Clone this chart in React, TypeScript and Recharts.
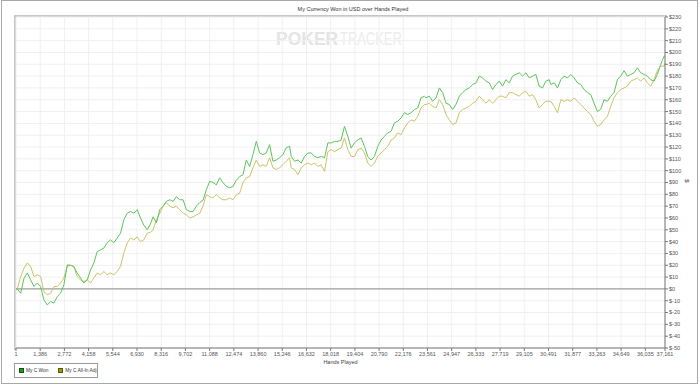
import React from 'react';
import { LineChart, Line, XAxis, YAxis, CartesianGrid, ReferenceLine } from 'recharts';

// hands played (x)
const hands = [
  1,
  77, 268, 458, 649, 839, 1030, 1220, 1411, 1601, 1792, 1983, 2173, 2364, 2554, 2745, 2935, 3126, 3316, 3507, 3698,
  3888, 4079, 4269, 4460, 4650, 4841, 5031, 5222, 5413, 5603, 5794, 5984, 6175, 6365, 6556, 6746, 6937, 7128, 7318, 7509, 7700,
  7852, 8043, 8233, 8424, 8614, 8805, 8995, 9186, 9377, 9567, 9758, 9948, 10139, 10329, 10520, 10710, 10901, 11092, 11282, 11473,
  11663, 11854, 12044, 12235, 12425, 12616, 12807, 12997, 13188, 13378, 13569, 13759, 13950, 14140, 14331, 14521, 14712, 14903, 15093, 15284,
  15474, 15665,
  15761, 15951, 16142, 16332, 16523, 16713, 16904, 17094, 17285, 17476, 17666, 17857, 18047, 18238, 18428, 18619, 18810, 19000, 19191, 19381,
  19572, 19762, 19953, 20143, 20334, 20525, 20715, 20906, 21096, 21287, 21477, 21668, 21858, 22049, 22240, 22430, 22621, 22811, 23002, 23192,
  23383,
  23478, 23669, 23859, 24050, 24240, 24431, 24622, 24812, 25003, 25193, 25384, 25574, 25765, 25955, 26146, 26337, 26527, 26718, 26908, 27099,
  27289, 27480, 27671, 27861, 28052, 28242, 28433, 28623, 28814, 29004, 29195, 29386, 29576, 29767, 29957, 30148, 30338, 30529,
  30625, 30815, 31006, 31196, 31387, 31577, 31768, 31958, 32149, 32340, 32530, 32721, 32911, 33102, 33292, 33483, 33673, 33864, 34055, 34245,
  34436, 34626, 34817, 35007, 35198, 35388, 35579, 35770, 35960, 36151, 36341, 36532, 36722, 36913, 37103,
  37161,
];

// My C Won ($)
const cWon = [
  0,
  0, -3.7, 9, 13.5, 7.6, 2, 5, 2, -9.3, -13.6, -10.7, -12, -6.5, -3.7, 3.4, 20.3, 20, 18.9, 13.3, 9.3,
  5, 7.6, 16, 22, 31.6, 33, 34.5, 39, 41.5, 39, 43, 47, 58.5, 64, 65.5, 64, 67, 60, 54, 50, 55,
  61, 56, 67, 70, 74, 75.4, 74, 78, 75.4, 75.4, 67, 65.5, 65.5, 70, 73, 75, 84, 91, 90, 88,
  94, 90, 86.7, 85.6, 86.7, 92, 95, 96.6, 109, 103.6, 113.6, 124.8, 115, 113.6, 115, 122, 108, 109, 111, 113.6,
  119.5, 120.6,
  112, 108, 109, 106.5, 112, 115, 115, 112, 111, 112, 111, 123.5, 123.5, 124.8, 124.8, 126, 137.5, 129, 119, 123.5,
  126, 127.7, 120.6, 112, 109, 112, 120.6, 126, 129, 132, 133.3, 140.4, 141.8, 144.6, 149, 147.5, 149, 151.7, 153, 161.6,
  163,
  161.6, 163, 158.7, 161.6, 170, 166, 157, 156, 151.7, 156, 163, 166, 168.6, 170, 172.9, 174.3, 180, 178.5, 175.7, 174.3,
  168.6, 172.9, 175.7, 171.5, 177, 174.3, 180, 181.4, 182.8, 180, 182.8, 178.5, 180, 181.4, 171.5, 170, 175.7, 177,
  172.9, 174.3, 170, 177, 180, 178.5, 181.4, 178.5, 174.3, 172.9, 168.6, 166, 164.4, 157, 150, 152, 160, 158.7, 163, 166,
  177, 180, 184.6, 180, 181.4, 182.8, 187, 182.8, 181.4, 180, 177, 175.7, 181.4, 189.8, 196.8,
  197,
];

// My C All-In Adj ($)
const cAllInAdj = [
  0,
  0, 10.4, 17.5, 22, 19, 10.4, 11.9, 10.4, -2.3, -5, -3.7, 2, 2, 5, 9.3, 19, 20, 19, 10.4, 7.6,
  6.2, 7.6, 5, 9.3, 13.5, 12, 14.7, 12, 13.5, 12, 14.7, 19, 30.5, 39, 43, 41.5, 44, 40, 41.5, 47, 48,
  50, 58.5, 64, 70, 73, 70, 68.6, 70, 67, 64, 62.7, 60, 61, 62.7, 64, 70, 79.7, 78, 77, 79.7,
  77, 75.4, 75.4, 77, 75.4, 79.7, 81, 90, 94, 95, 102.5, 109, 103.6, 105, 103.6, 111, 102.5, 101, 102.5, 105,
  108, 111,
  102.3, 101, 96.6, 102.3, 105, 106.5, 105, 106.5, 103.6, 105, 99.4, 116, 117.8, 116, 117.8, 119, 127.7, 117.8, 112, 112,
  117.8, 119, 115, 106.5, 103.6, 106.5, 112, 115, 117.8, 120.6, 126, 127.7, 132, 130.5, 136, 140.4, 143, 141.8, 146, 153,
  155.9,
  156, 157, 154.5, 153, 160, 156, 147.5, 143, 139, 140.4, 149, 151.7, 153, 154.5, 157, 158.7, 163, 160, 157, 160,
  157, 160, 163, 163, 161.6, 166, 166, 164.4, 163, 166, 167.2, 163, 164.4, 160, 153, 156, 158.7, 158.7,
  158.7, 154.5, 149, 160, 158.7, 160, 158.7, 161.6, 158.7, 156, 153, 150, 147.5, 141.8, 137.5, 139, 143, 146, 154.5, 161.6,
  166, 168.6, 170, 171.5, 175.7, 177, 178.5, 175.7, 178.5, 174.3, 171.5, 177, 184.6, 188.4, 188.4,
  191,
];

const handTicks = [
  1, 1386, 2772, 4158, 5544, 6930, 8316, 9702, 11088, 12474, 13860, 15246, 16632, 18018,
  19404, 20790, 22176, 23561, 24947, 26333, 27719, 29105, 30491, 31877, 33263, 34649, 36035, 37161,
];

const dollarTicks = [
  230, 220, 210, 200, 190, 180, 170, 160, 150, 140, 130, 120, 110, 100, 90, 80, 70, 60, 50, 40, 30, 20, 10, 0,
  -10, -20, -30, -40, -50,
];

const data = hands.map((h, i) => ({ hands: h, won: cWon[i], adj: cAllInAdj[i] }));

const FONT = '"Liberation Sans", Arial, sans-serif';
const WON_COLOR = '#5cc45c';
const ADJ_COLOR = '#cbc466';
const TICK = { fontSize: 5.5, fill: '#555', fontFamily: FONT };

export default function App() {
  return (
    <div style={{ position: 'absolute', left: 0, top: 0, width: 700, height: 386, background: '#fff', fontFamily: FONT }}>
      {/* outer frame */}
      <div style={{ position: 'absolute', left: 1, top: 0, width: 695, height: 382, border: '1.5px solid #a9a9a9' }} />
      {/* title */}
      <div style={{ position: 'absolute', left: 0, top: 6, width: 706, textAlign: 'center', fontSize: 5.5, color: '#333' }}>
        My Currency Won in USD over Hands Played
      </div>
      {/* plot panel edge */}
      <div style={{ position: 'absolute', left: 14, top: 15, width: 651, height: 333, borderLeft: '2px solid #c6c6c6', borderTop: '2px solid #c6c6c6' }} />
      {/* watermark */}
      <div style={{ position: 'absolute', left: 276, top: 28, fontSize: 19, lineHeight: '21px', whiteSpace: 'nowrap' }}>
        <span style={{ color: '#e4e4e4', fontWeight: 'bold', display: 'inline-block', transform: 'scaleX(0.92)', transformOrigin: 'left' }}>POKER</span>
        <span style={{ color: '#ececec', display: 'inline-block', transform: 'scaleX(0.68)', transformOrigin: 'left', marginLeft: -4 }}>TRACKER</span>
      </div>
      <div style={{ position: 'absolute', left: 0, top: 0 }}>
        <LineChart width={700} height={386} data={data} margin={{ top: 17, right: 0, bottom: 18, left: 16 }}>
          <CartesianGrid stroke="#f0f0f0" strokeWidth={1} />
          <XAxis
            dataKey="hands"
            type="number"
            domain={[1, 37161]}
            ticks={handTicks}
            interval={0}
            height={20}
            tick={TICK}
            tickSize={3}
            tickMargin={1}
            stroke="#777"
            tickFormatter={(v: number) => v.toLocaleString('en-US')}
            label={{ value: 'Hands Played', position: 'insideBottom', offset: 4, style: { fontSize: 5.5, fill: '#444', fontFamily: FONT } }}
          />
          <YAxis
            orientation="right"
            type="number"
            domain={[-50, 230]}
            ticks={dollarTicks}
            interval={0}
            width={35}
            tick={TICK}
            tickSize={3}
            tickMargin={1}
            stroke="#777"
            tickFormatter={(v: number) => `$${v}`}
            label={{ value: '$', angle: 90, position: 'insideRight', offset: 13, style: { fontSize: 6, fill: '#444', fontFamily: FONT } }}
          />
          <ReferenceLine y={0} stroke="#8a8a8a" strokeWidth={1} />
          <Line type="linear" dataKey="adj" stroke={ADJ_COLOR} strokeWidth={1} dot={false} isAnimationActive={false} />
          <Line type="linear" dataKey="won" stroke={WON_COLOR} strokeWidth={1} dot={false} isAnimationActive={false} />
        </LineChart>
      </div>
      {/* legend */}
      <div style={{ position: 'absolute', left: 14, top: 363, width: 84, height: 15, border: '1px solid #9a9a9a', fontSize: 4.8, color: '#333', display: 'flex', alignItems: 'center', paddingLeft: 4, boxSizing: 'border-box', whiteSpace: 'nowrap' }}>
        <span style={{ display: 'flex', alignItems: 'center', flexShrink: 0 }}>
          <span style={{ width: 3, height: 3, marginRight: 2, background: '#1f9a1f', border: '0.5px solid #0b5a0b' }} />
          My C Won
        </span>
        <span style={{ display: 'flex', alignItems: 'center', flexShrink: 0, marginLeft: 10 }}>
          <span style={{ width: 3, height: 3, marginRight: 2, background: '#9a9a10', border: '0.5px solid #5a5a05' }} />
          My C All-In Adj
        </span>
      </div>
    </div>
  );
}
